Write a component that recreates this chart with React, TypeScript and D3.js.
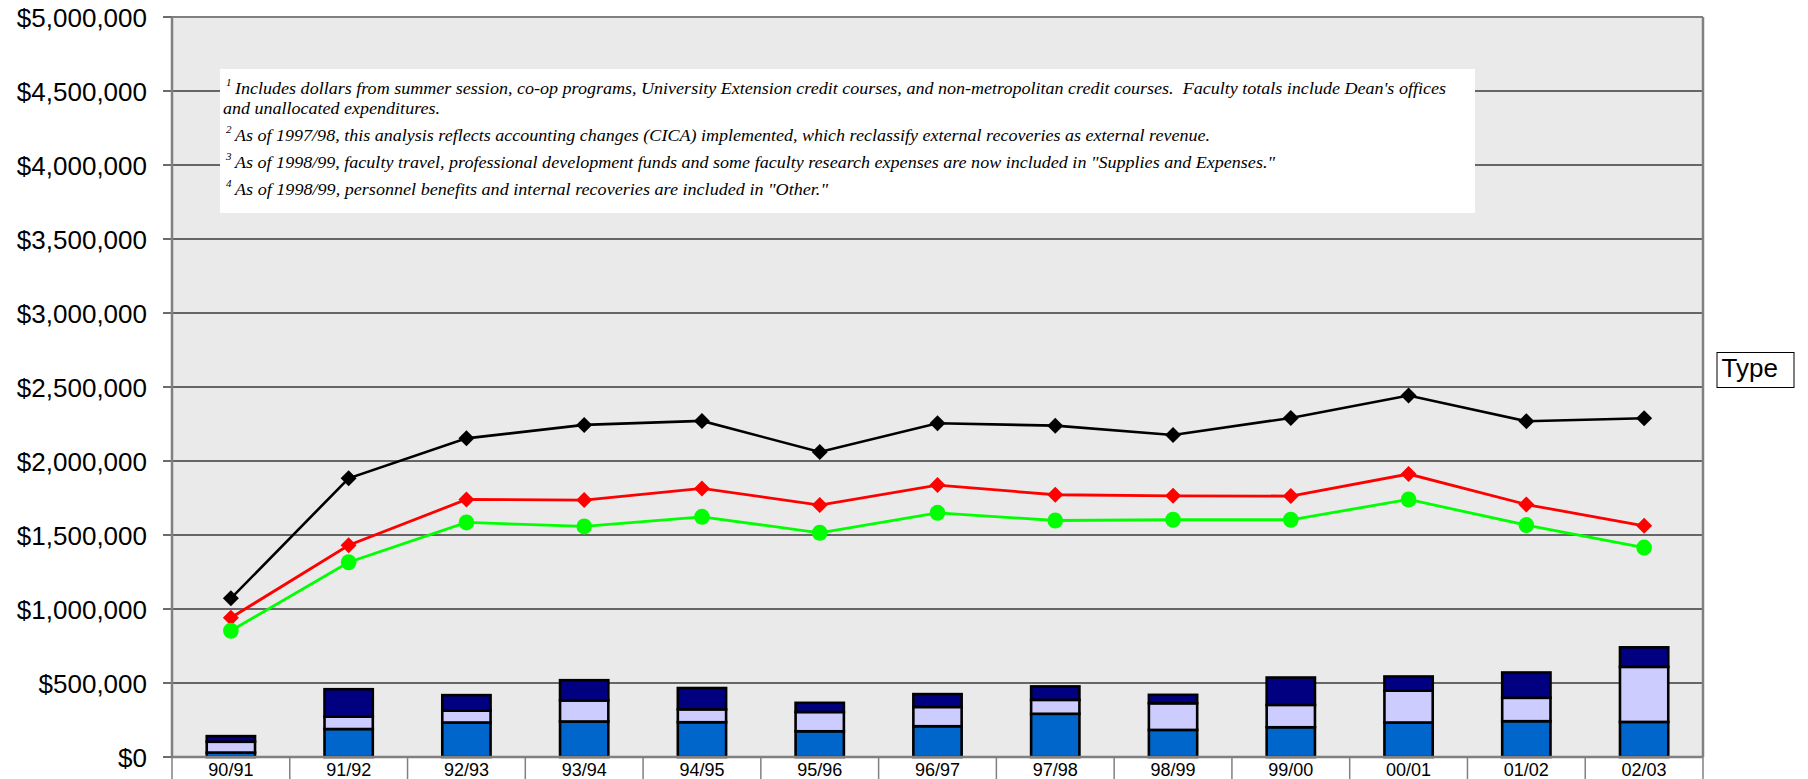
import React from "react";
import * as d3 from "d3";

const categories = ["90/91", "91/92", "92/93", "93/94", "94/95", "95/96", "96/97", "97/98", "98/99", "99/00", "00/01", "01/02", "02/03"];
const blueValues = [30000, 189000, 233000, 240000, 235000, 174000, 208000, 292000, 183000, 201000, 233000, 242000, 237000];
const lavenderValues = [73000, 84000, 80000, 142000, 87000, 130000, 130000, 94000, 180000, 151000, 215000, 158000, 372000];
const navyValues = [38000, 185000, 105000, 137000, 144000, 62000, 87000, 91000, 57000, 185000, 96000, 171000, 132000];
const blackLine = [1072000, 1883000, 2153000, 2244000, 2271000, 2061000, 2255000, 2239000, 2176000, 2291000, 2442000, 2269000, 2289000];
const redLine = [941000, 1431000, 1740000, 1736000, 1815000, 1702000, 1837000, 1772000, 1765000, 1763000, 1912000, 1706000, 1562000];
const greenLine = [853000, 1316000, 1585000, 1558000, 1623000, 1515000, 1650000, 1598000, 1603000, 1603000, 1740000, 1567000, 1415000];
const yTicks = [0, 500000, 1000000, 1500000, 2000000, 2500000, 3000000, 3500000, 4000000, 4500000, 5000000];
const legendTitle = "Type";
const notes = [
  { sup: "1", lines: ["Includes dollars from summer session, co-op programs, University Extension credit courses, and non-metropolitan credit courses.  Faculty totals include Dean's offices", "and unallocated expenditures."] },
  { sup: "2", lines: ["As of 1997/98, this analysis reflects accounting changes (CICA) implemented, which reclassify external recoveries as external revenue."] },
  { sup: "3", lines: ["As of 1998/99, faculty travel, professional development funds and some faculty research expenses are now included in \"Supplies and Expenses.\""] },
  { sup: "4", lines: ["As of 1998/99, personnel benefits and internal recoveries are included in \"Other.\""] },
];

const W = 1808;
const H = 779;
const L = 172, R = 1703, T = 17, B = 757;

export default function App() {
  const x = d3.scaleBand<string>().domain(categories).range([L, R]).padding(0);
  const y = d3.scaleLinear().domain([0, 5000000]).range([B, T]);
  const bw = x.bandwidth();
  const barW = bw * 0.41;
  const cx = (i: number) => (x(categories[i]) as number) + bw / 2;

  const rows = categories.map((c, i) => ({ cat: c, blue: blueValues[i], lav: lavenderValues[i], navy: navyValues[i] }));
  const stack = d3.stack<any>().keys(["blue", "lav", "navy"])(rows);
  const barColors: Record<string, string> = { blue: "#0066CC", lav: "#CCCCFF", navy: "#000080" };

  const lineGen = d3.line<number>().x((_, i) => cx(i)).y((d) => y(d));

  const diamond = (px: number, py: number, s: number) => `M${px},${py - s}L${px + s},${py}L${px},${py + s}L${px - s},${py}Z`;

  const noteBaselines = [[94, 114], [141], [168], [195]];
  const noteWidths = [[1211, 217], [975], [1040], [593]];

  return (
    <svg width={W} height={H} style={{ position: "absolute", left: 0, top: 0, background: "#fff" }}>
      <rect x={L} y={T} width={R - L} height={B - T} fill="#EAEAEA" />
      {yTicks.map((t) => (
        <g key={t}>
          <line x1={L - 9} x2={R} y1={y(t)} y2={y(t)} stroke="#3a3a3a" strokeWidth={1.3} />
          <text x={147} y={y(t) + 9.5} textAnchor="end" fontFamily="Liberation Sans, Arial, sans-serif" fontSize={26} fill="#000">
            {d3.format("$,.0f")(t)}
          </text>
        </g>
      ))}
      <rect x={220} y={69} width={1255} height={144} fill="#fff" />
      {notes.map((n, ni) =>
        n.lines.map((ln, li) => (
          <g key={`${ni}-${li}`}>
            {li === 0 && (
              <text x={226} y={noteBaselines[ni][li] - 8} fontFamily="Liberation Serif, Times New Roman, serif" fontStyle="italic" fontSize={11}>
                {n.sup}
              </text>
            )}
            <text
              x={li === 0 ? 235 : 223}
              y={noteBaselines[ni][li]}
              fontFamily="Liberation Serif, Times New Roman, serif"
              fontStyle="italic"
              fontSize={17.5}
              style={{ whiteSpace: "pre" }}
              textLength={noteWidths[ni][li]}
              lengthAdjust="spacingAndGlyphs"
            >
              {ln}
            </text>
          </g>
        ))
      )}
      {stack.map((s) => (
        <g key={s.key}>
          {s.map((d, i) => (
            <rect
              key={i}
              x={cx(i) - barW / 2}
              y={y(d[1])}
              width={barW}
              height={y(d[0]) - y(d[1])}
              fill={barColors[s.key]}
              stroke="#000"
              strokeWidth={2.6}
            />
          ))}
        </g>
      ))}
      <line x1={L} x2={R} y1={T} y2={T} stroke="#808080" strokeWidth={2} />
      <line x1={L} x2={L} y1={T} y2={B} stroke="#808080" strokeWidth={2.5} />
      <line x1={R} x2={R} y1={T} y2={B} stroke="#808080" strokeWidth={2.5} />
      <line x1={L} x2={R} y1={B} y2={B} stroke="#808080" strokeWidth={2.5} />
      <path d={lineGen(blackLine) as string} fill="none" stroke="#000" strokeWidth={2.6} />
      <path d={lineGen(redLine) as string} fill="none" stroke="#FF0000" strokeWidth={2.8} />
      <path d={lineGen(greenLine) as string} fill="none" stroke="#00FF00" strokeWidth={2.8} />
      {blackLine.map((v, i) => (
        <path key={`b${i}`} d={diamond(cx(i), y(v), 8)} fill="#000" />
      ))}
      {redLine.map((v, i) => (
        <path key={`r${i}`} d={diamond(cx(i), y(v), 8)} fill="#FF0000" />
      ))}
      {greenLine.map((v, i) => (
        <ellipse key={`g${i}`} cx={cx(i)} cy={y(v)} rx={7.8} ry={8} fill="#00FF00" />
      ))}
      {d3.range(categories.length + 1).map((i) => {
        const xx = i === categories.length ? R : (x(categories[i]) as number);
        return <line key={`s${i}`} x1={xx} x2={xx} y1={B} y2={H} stroke="#808080" strokeWidth={1.5} />;
      })}
      {categories.map((c, i) => (
        <text key={c} x={cx(i)} y={776} textAnchor="middle" fontFamily="Liberation Sans, Arial, sans-serif" fontSize={18}>
          {c}
        </text>
      ))}
      <rect x={1717} y={352.5} width={77} height={35} fill="#fff" stroke="#000" strokeWidth={1} />
      <text x={1721.5} y={377} fontFamily="Liberation Sans, Arial, sans-serif" fontSize={26}>
        {legendTitle}
      </text>
    </svg>
  );
}
